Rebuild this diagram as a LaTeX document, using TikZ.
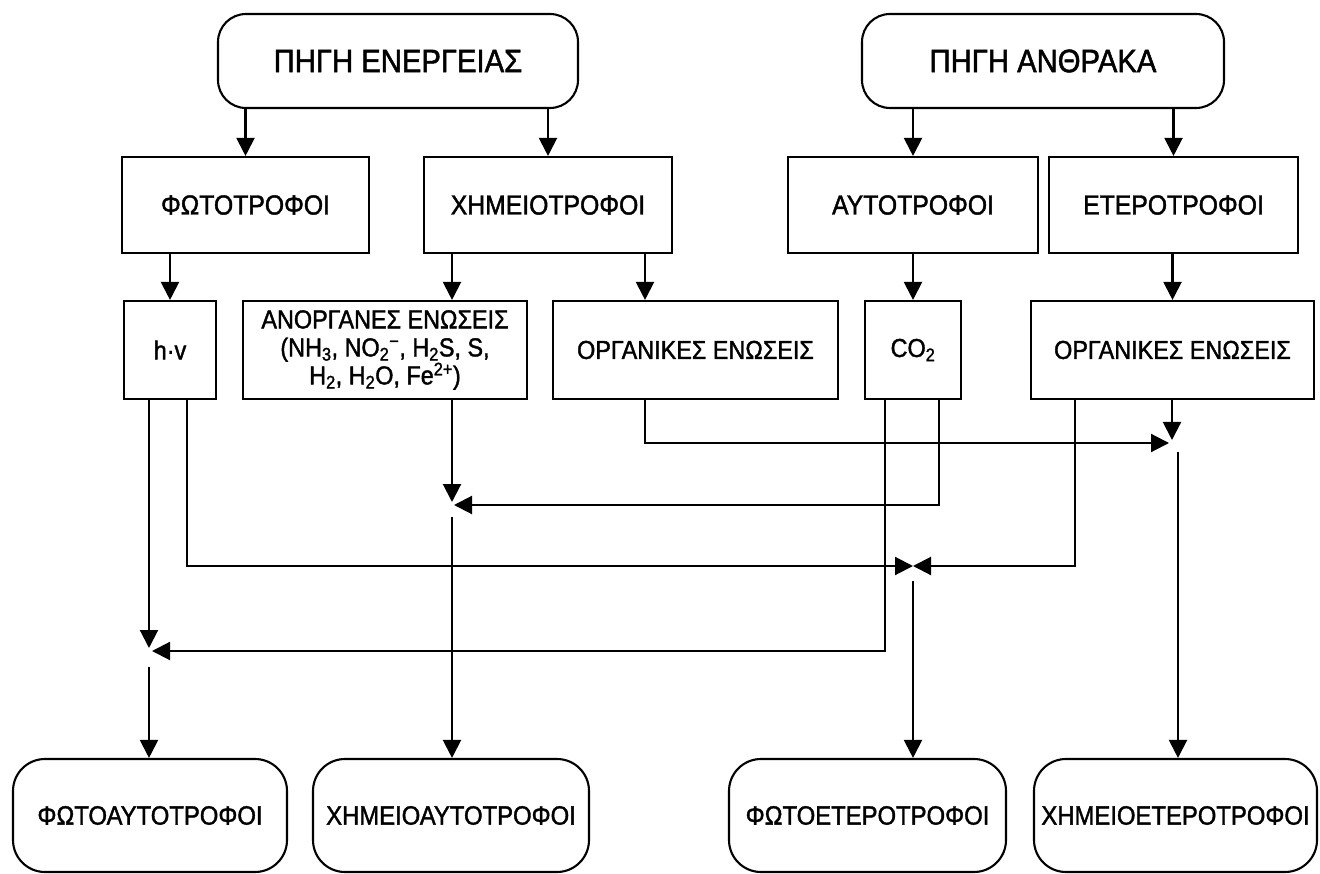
\documentclass[tikz,border=0pt]{standalone}
\usepackage{fontspec}
\setmainfont{Liberation Sans}[FakeStretch=0.9,FakeBold=1.5]
\usetikzlibrary{arrows.meta}
\begin{document}
\begin{tikzpicture}[x=1pt,y=-1pt,
  box/.style={draw,line width=2.1pt,inner sep=0pt,align=center},
  rbox/.style={box,rounded corners=28pt},
  bbox/.style={box,rounded corners=32pt,minimum height=113pt,font=\fontsize{26.5}{30}\selectfont},
  ln/.style={line width=2.1pt},
  arr/.style={ln,-{Triangle[width=18pt,length=18pt]}},
  ftop/.style={font=\fontsize{32.5}{36}\selectfont},
  fmid/.style={font=\fontsize{27.5}{32}\selectfont},
  frow/.style={font=\fontsize{26}{28}\selectfont}]
\useasboundingbox (0,0) rectangle (1320,874);
% top
\node[rbox,ftop,minimum width=360pt,minimum height=94pt] (src1) at (398,61) {ΠΗΓΗ ΕΝΕΡΓΕΙΑΣ};
\node[rbox,ftop,minimum width=362pt,minimum height=94pt] (src2) at (1043,61) {ΠΗΓΗ ΑΝΘΡΑΚΑ};
% row 2
\node[box,fmid,minimum width=247pt,minimum height=96pt] (fot) at (245.5,205) {ΦΩΤΟΤΡΟΦΟΙ};
\node[box,fmid,minimum width=248pt,minimum height=96pt] (xim) at (548,205) {ΧΗΜΕΙΟΤΡΟΦΟΙ};
\node[box,fmid,minimum width=250pt,minimum height=96pt] (aut) at (913,205) {ΑΥΤΟΤΡΟΦΟΙ};
\node[box,fmid,minimum width=249pt,minimum height=96pt] (ete) at (1173.5,205) {ΕΤΕΡΟΤΡΟΦΟΙ};
% row 3
\node[box,frow,minimum width=92pt,minimum height=98pt] (hv) at (170,350) {h·v};
\node[box,frow,minimum width=284pt,minimum height=98pt] (anorg) at (385,350)
  {ΑΝΟΡΓΑΝΕΣ ΕΝΩΣΕΙΣ\\(NH\textsubscript{3}, NO\textsubscript{2}\textsuperscript{−}, H\textsubscript{2}S, S,\\H\textsubscript{2}, H\textsubscript{2}O, Fe\textsuperscript{2+})};
\node[box,frow,minimum width=285pt,minimum height=98pt] (org1) at (695.5,350) {ΟΡΓΑΝΙΚΕΣ ΕΝΩΣΕΙΣ};
\node[box,frow,minimum width=96pt,minimum height=98pt] (co2) at (913,350) {CO\textsubscript{2}};
\node[box,frow,minimum width=283pt,minimum height=98pt] (org2) at (1172.5,350) {ΟΡΓΑΝΙΚΕΣ ΕΝΩΣΕΙΣ};
% bottom
\node[bbox,minimum width=274pt] (b1) at (150,815.5) {ΦΩΤΟΑΥΤΟΤΡΟΦΟΙ};
\node[bbox,minimum width=276pt] (b2) at (451,815.5) {ΧΗΜΕΙΟΑΥΤΟΤΡΟΦΟΙ};
\node[bbox,minimum width=277pt] (b3) at (867.5,815.5) {ΦΩΤΟΕΤΕΡΟΤΡΟΦΟΙ};
\node[bbox,minimum width=283pt] (b4) at (1175.5,815.5) {ΧΗΜΕΙΟΕΤΕΡΟΤΡΟΦΟΙ};
% junctions and columns
\coordinate (J1) at (452,505);
\coordinate (J2) at (1172,443);
\coordinate (J3) at (149,651);
\coordinate (J4) at (913,566);
\coordinate (J2o) at (1178,452);
\coordinate (c645) at (645,0);
\coordinate (hvB) at (187,0);
\coordinate (coA) at (885,0);
\coordinate (coB) at (939,0);
\coordinate (orA) at (1075,0);
% row 1 -> row 2
\draw[arr] (src1.south -| fot.north) -- (fot.north);
\draw[arr] (src1.south -| xim.north) -- (xim.north);
\draw[arr] (src2.south -| aut.north) -- (aut.north);
\draw[arr] (src2.south -| ete.north) -- (ete.north);
% row 2 -> row 3
\draw[arr] (fot.south -| hv.north) -- (hv.north);
\draw[arr] (xim.south -| J1) -- (anorg.north -| J1);
\draw[arr] (xim.south -| c645) -- (org1.north -| c645);
\draw[arr] (aut.south -| co2.north) -- (co2.north);
\draw[arr] (ete.south -| org2.north) -- (org2.north);
% junction J1 : chemoautotrophs
\draw[arr] (anorg.south -| J1) -- ([yshift=3pt]J1);
\draw[arr] (co2.south -| coB) |- ([xshift=2pt]J1);
\draw[arr] ([yshift=-12pt]J1) -- (b2.north -| J1);
% junction J2 : chemoheterotrophs
\draw[arr] (org1.south -| c645) |- ([xshift=-3pt]J2);
\draw[arr] (org2.south -| J2) -- ([yshift=3pt]J2);
\draw[arr] (J2o) -- (b4.north -| J2o);
% junction J3 : photoautotrophs
\draw[arr] (hv.south -| J3) -- ([yshift=3pt]J3);
\draw[arr] (co2.south -| coA) |- ([xshift=3pt]J3);
\draw[arr] ([yshift=-16pt]J3) -- (b1.north -| J3);
% junction J4 : photoheterotrophs
\draw[arr] (hv.south -| hvB) |- (J4);
\draw[arr] (org2.south -| orA) |- (J4);
\draw[arr] ([yshift=-15pt]J4) -- (b3.north -| J4);
\end{tikzpicture}
\end{document}
